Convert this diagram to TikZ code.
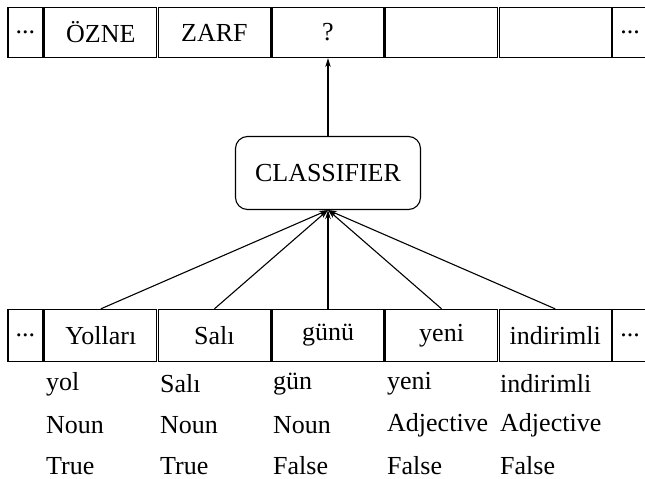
\documentclass[tikz,border=0pt]{standalone}
\usepackage{fontspec}
\setmainfont{Liberation Serif}
\usetikzlibrary{arrows.meta}

\begin{document}
\begin{tikzpicture}[x=1pt,y=-1pt,>={Stealth[length=9pt,width=5.5pt]},
  font=\fontsize{26pt}{30pt}\selectfont,
  cell/.style={draw,line width=1.3pt,inner sep=0pt,minimum height=50pt},
  clsbox/.style={draw,line width=1.1pt,rounded corners=12pt,minimum width=185pt,minimum height=73pt},
  conn/.style={line width=1.1pt},
  feat/.style={anchor=west,inner sep=0pt}]
\useasboundingbox (0,0) rectangle (645,479);
% upper row of labels
\node[cell,minimum width=35] (t0) at (25.5,32.5) {...};
\foreach \i/\x/\txt in {1/100.8/ÖZNE,2/214.4/ZARF,3/328/?,4/441.6/{},5/555.2/{}}{
  \node[cell,minimum width=112] (t\i) at (\x,32.5) {\txt};
}
\node[cell,minimum width=35] (t6) at (630,32.5) {...};
% classifier
\node[clsbox] (cls) at (328,173) {CLASSIFIER};
\draw[->,conn] (cls.north) -- (t3.south);
% lower row of words
\node[cell,minimum width=35,minimum height=52] (b0) at (25.5,335.5) {...};
\foreach \i/\x/\txt in {1/100.8/Yolları,2/214.4/Salı,3/328/günü,4/441.6/yeni,5/555.2/indirimli}{
  \node[cell,minimum width=112,minimum height=52] (b\i) at (\x,335.5) {\txt};
  \draw[->,conn] (b\i.north) -- (cls.south);
}
\node[cell,minimum width=35,minimum height=52] (b6) at (630,335.5) {...};
% features under each word
\foreach \i/\x/\ra/\rb/\rc in {1/46/yol/Noun/True,2/160/Salı/Noun/True,3/273/gün/Noun/False,
    4/387/yeni/Adjective/False,5/500/indirimli/Adjective/False}{
  \node[feat] (r\i a) at (\x,384) {\ra};
  \node[feat] (r\i b) at (\x,425) {\rb};
  \node[feat] (r\i c) at (\x,466) {\rc};
}
\end{tikzpicture}
\end{document}
